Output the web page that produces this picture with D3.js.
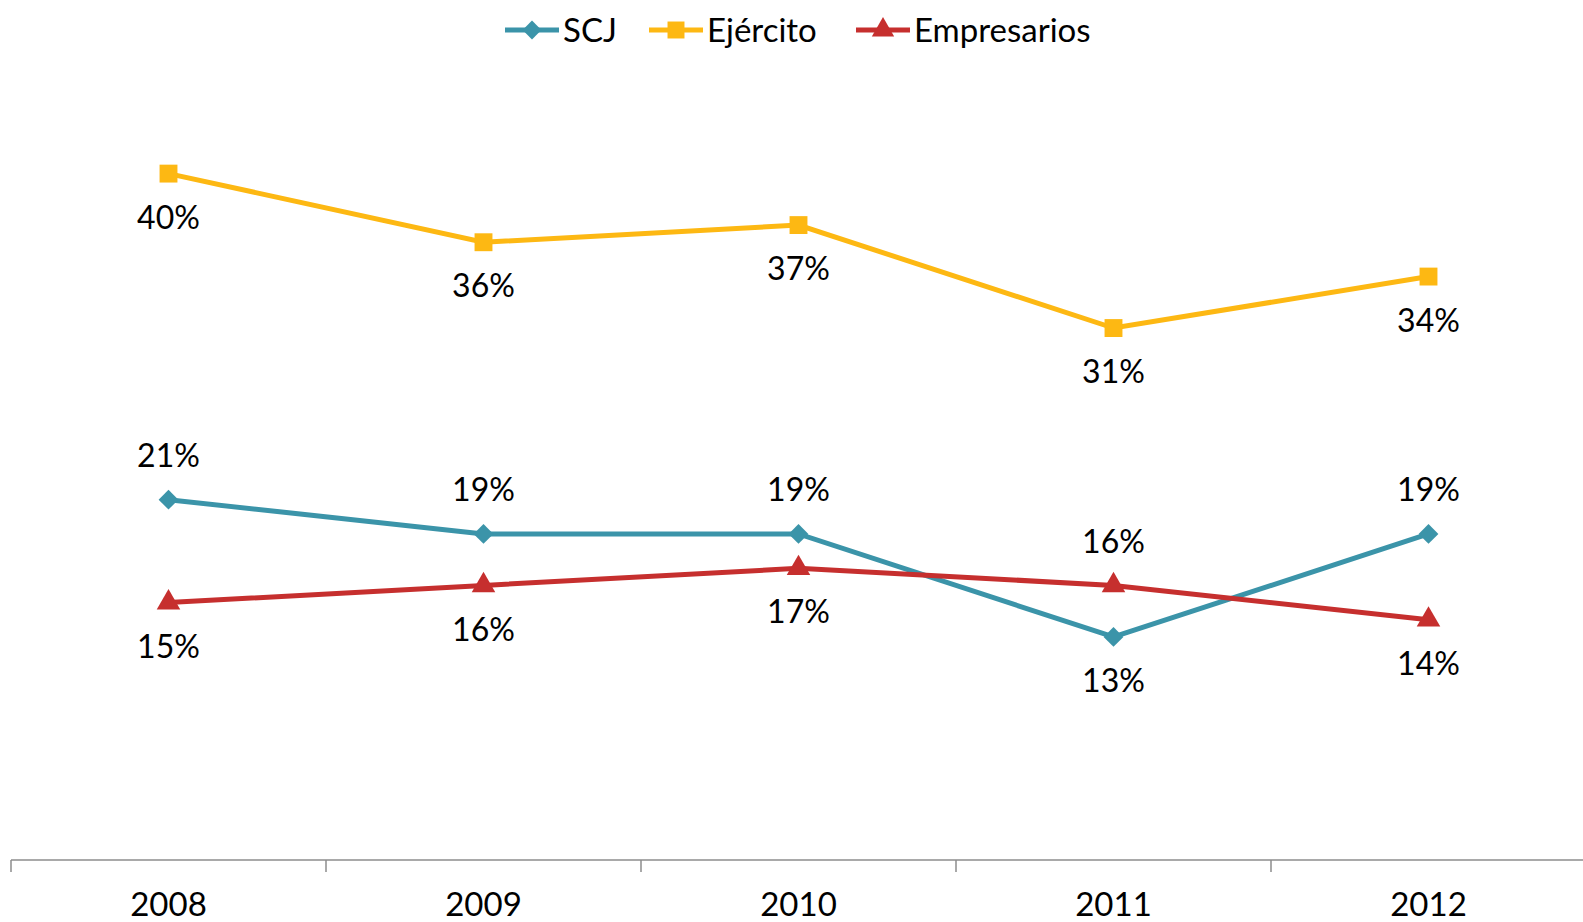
<!DOCTYPE html>
<html lang="es">
<head>
    <meta charset="UTF-8">
    <title>SCJ, Ejército, Empresarios</title>
    <script src="https://d3js.org/d3.v7.min.js"></script>
    <style>
        body { margin: 0; background: #fff; }
        text { font-family: Lato, "Open Sans", sans-serif; fill: #000; }
    </style>
</head>
<body>
<svg width="1583" height="922"></svg>
<script>
    // data
    const years = ["2008", "2009", "2010", "2011", "2012"]
    const scj = [21, 19, 19, 13, 19]
    const ejercito = [40, 36, 37, 31, 34]
    const empresarios = [15, 16, 17, 16, 14]
    // label above (-1) or below (+1) each point
    const scjPos = [-1, -1, -1, 1, -1]
    const ejercitoPos = [1, 1, 1, 1, 1]
    const empresariosPos = [1, 1, 1, -1, 1]

    let svg = d3.select('svg')

    let x = d3.scaleBand().domain(years).range([11, 1586])
    let y = d3.scaleLinear().domain([0, 50]).range([860, 2])

    let series = [
        {name: "SCJ", values: scj, pos: scjPos, color: "#3b94a9", symbol: d3.symbolDiamond2, size: 250},
        {name: "Ejército", values: ejercito, pos: ejercitoPos, color: "#fdb813", symbol: d3.symbolSquare, size: 320},
        {name: "Empresarios", values: empresarios, pos: empresariosPos, color: "#c62f2e", symbol: d3.symbolTriangle, size: 240}
    ]

    // x axis
    let axis = d3.axisBottom(x).tickSize(0).tickPadding(0)
    let ax = svg.append("g").attr("transform", "translate(0,860)").call(axis)
    ax.select(".domain").remove()
    ax.selectAll("text").attr("font-size", 33).attr("dy", null).attr("y", 56)
    ax.selectAll("line").remove()
    svg.append("line")
        .attr("x1", 11).attr("x2", 1583).attr("y1", 860).attr("y2", 860)
        .attr("stroke", "#8c8c8c").attr("stroke-width", 1.5)
    svg.append("g").selectAll("line")
        .data(d3.range(years.length + 1))
        .enter().append("line")
        .attr("x1", i => 11 + i * x.step()).attr("x2", i => 11 + i * x.step())
        .attr("y1", 860).attr("y2", 872)
        .attr("stroke", "#8c8c8c").attr("stroke-width", 1.5)

    let cx = i => x(years[i]) + x.bandwidth() / 2
    let line = d3.line().x((d, i) => cx(i)).y(d => y(d))

    // lines + markers
    series.forEach(s => {
        let g = svg.append("g")
        g.append("path")
            .attr("d", line(s.values))
            .attr("fill", "none")
            .attr("stroke", s.color)
            .attr("stroke-width", 5)
        g.selectAll(".m")
            .data(s.values)
            .enter().append("path")
            .attr("d", d3.symbol().type(s.symbol).size(s.size))
            .attr("transform", (d, i) => `translate(${cx(i)},${y(d)})`)
            .attr("fill", s.color)
    })

    // data labels
    series.forEach(s => {
        svg.append("g").selectAll("text")
            .data(s.values)
            .enter().append("text")
            .attr("x", (d, i) => cx(i))
            .attr("y", (d, i) => y(d) + s.pos[i] * 44)
            .attr("dy", "0.35em")
            .attr("text-anchor", "middle")
            .attr("font-size", 32)
            .text(d => d + "%")
    })

    // legend
    let legendX = [505, 649, 856]
    let legend = svg.append("g").attr("transform", "translate(0,30)")
    series.forEach((s, i) => {
        let lg = legend.append("g").attr("transform", `translate(${legendX[i]},0)`)
        lg.append("line").attr("x1", 0).attr("x2", 54)
            .attr("stroke", s.color).attr("stroke-width", 5)
        lg.append("path")
            .attr("d", d3.symbol().type(s.symbol).size(s.size * 0.9))
            .attr("transform", "translate(27,0)")
            .attr("fill", s.color)
        lg.append("text").attr("x", 58).attr("dy", "0.35em")
            .attr("font-size", 33).text(s.name)
    })
</script>
</body>
</html>
